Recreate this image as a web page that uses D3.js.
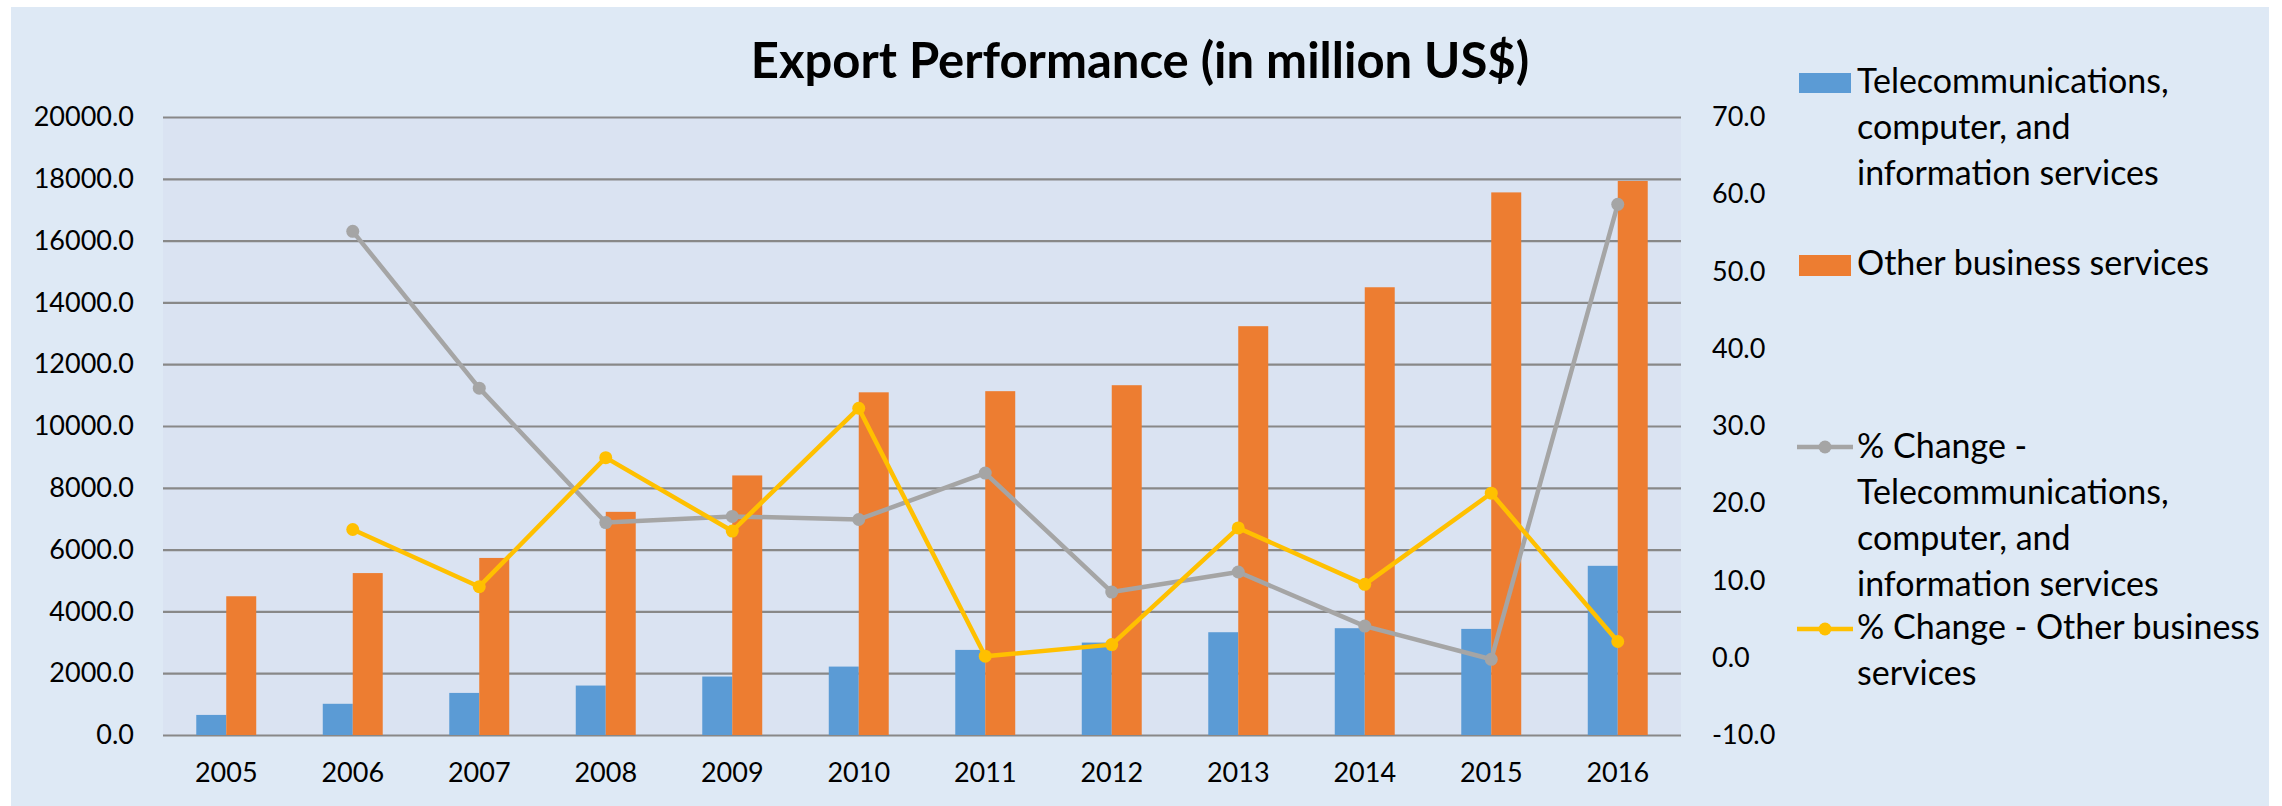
<!DOCTYPE html>
<html>
<head>
<meta charset="utf-8">
<script src="https://cdn.jsdelivr.net/npm/d3@7"></script>
<style>
  html, body { margin: 0; padding: 0; background: #ffffff; }
  svg { display: block; }
  text { font-family: Lato, "Open Sans", sans-serif; fill: #000; }
</style>
</head>
<body>
<svg id="chart" width="2282" height="806"></svg>
<script>
// ---- data ----
const years = ["2005","2006","2007","2008","2009","2010","2011","2012","2013","2014","2015","2016"];
const telecomValues = [650, 1010, 1362, 1600, 1892, 2214, 2754, 2991, 3326, 3456, 3434, 5475];
const otherBizValues = [4490, 5240, 5730, 7222, 8400, 11090, 11127, 11320, 13230, 14490, 17560, 17930];
const pctTelecom = [null, 55.2, 34.9, 17.5, 18.3, 17.9, 23.9, 8.5, 11.1, 4.1, -0.2, 58.7];
const pctOther = [null, 16.6, 9.2, 25.9, 16.4, 32.3, 0.2, 1.7, 16.8, 9.5, 21.3, 2.1];
const leftTicks = [0, 2000, 4000, 6000, 8000, 10000, 12000, 14000, 16000, 18000, 20000];
const rightTicks = [-10, 0, 10, 20, 30, 40, 50, 60, 70];
const titleText = "Export Performance (in million US$)";

// ---- layout ----
const plot = { left: 163, right: 1681, top: 117, bottom: 735 };
const colors = { blue: "#5B9BD5", orange: "#ED7D31", gray: "#A5A5A5", yellow: "#FFC000" };
const fmt = d => d.toFixed(1);

const svg = d3.select("#chart");

// backgrounds
svg.append("rect").attr("x", 11).attr("y", 7).attr("width", 2258).attr("height", 799).attr("fill", "#DEE9F5");
svg.append("rect").attr("x", plot.left).attr("y", plot.top)
  .attr("width", plot.right - plot.left).attr("height", plot.bottom - plot.top).attr("fill", "#DAE3F2");

// scales
const x = d3.scaleBand().domain(years).range([plot.left, plot.right]).paddingInner(0.526).paddingOuter(0.263);
const xSub = d3.scaleBand().domain(["t", "o"]).range([0, x.bandwidth()]);
const yL = d3.scaleLinear().domain([0, 20000]).range([plot.bottom, plot.top]);
const yR = d3.scaleLinear().domain([-10, 70]).range([plot.bottom, plot.top]);
const cx = d => x(d) + x.bandwidth() / 2;

// gridlines + left axis
const leftAxis = d3.axisLeft(yL).tickValues(leftTicks).tickFormat(fmt)
  .tickSize(-(plot.right - plot.left)).tickPadding(29);
const gL = svg.append("g").attr("transform", `translate(${plot.left},0)`).call(leftAxis);
gL.select(".domain").remove();
gL.selectAll(".tick line").attr("stroke", "#888888").attr("stroke-width", 2.2);
gL.selectAll(".tick text").attr("font-size", 27).attr("font-family", "Lato").attr("fill", "#000");

// right axis (labels only, left aligned)
const rightAxis = d3.axisRight(yR).tickValues(rightTicks).tickFormat(fmt).tickSize(0).tickPadding(31);
const gR = svg.append("g").attr("transform", `translate(${plot.right},0)`).call(rightAxis);
gR.select(".domain").remove();
gR.selectAll(".tick text").attr("font-size", 27).attr("font-family", "Lato").attr("fill", "#000");

// bottom axis labels
const bottomAxis = d3.axisBottom(x).tickSize(0).tickPadding(28);
const gB = svg.append("g").attr("transform", `translate(0,${plot.bottom})`).call(bottomAxis);
gB.select(".domain").remove();
gB.selectAll(".tick text").attr("font-size", 27).attr("font-family", "Lato").attr("fill", "#000");

// bars
const barData = years.map((y, i) => ({ year: y, t: telecomValues[i], o: otherBizValues[i] }));
const groups = svg.append("g").selectAll("g").data(barData).join("g")
  .attr("transform", d => `translate(${x(d.year)},0)`);
groups.append("rect").attr("x", xSub("t")).attr("width", xSub.bandwidth())
  .attr("y", d => yL(d.t)).attr("height", d => yL(0) - yL(d.t)).attr("fill", colors.blue);
groups.append("rect").attr("x", xSub("o")).attr("width", xSub.bandwidth())
  .attr("y", d => yL(d.o)).attr("height", d => yL(0) - yL(d.o)).attr("fill", colors.orange);

// lines
function drawLine(values, color) {
  const pts = years.map((y, i) => ({ year: y, v: values[i] })).filter(d => d.v !== null);
  const line = d3.line().x(d => cx(d.year)).y(d => yR(d.v));
  svg.append("path").datum(pts).attr("d", line).attr("fill", "none")
    .attr("stroke", color).attr("stroke-width", 4.5).attr("stroke-linejoin", "round");
  svg.append("g").selectAll("circle").data(pts).join("circle")
    .attr("cx", d => cx(d.year)).attr("cy", d => yR(d.v)).attr("r", 6.5).attr("fill", color);
}
drawLine(pctTelecom, colors.gray);
drawLine(pctOther, colors.yellow);

// title
svg.append("text").attr("x", 1140).attr("y", 78).attr("text-anchor", "middle")
  .attr("font-size", 49).attr("font-weight", "bold").text(titleText);

// legend
const legend = svg.append("g");
function legendText(xPos, yPos, lines) {
  const t = legend.append("text").attr("x", xPos).attr("y", yPos).attr("font-size", 34);
  lines.forEach((l, i) => t.append("tspan").attr("x", xPos).attr("dy", i === 0 ? 0 : 46).text(l));
}
legend.append("rect").attr("x", 1799).attr("y", 73).attr("width", 52).attr("height", 20).attr("fill", colors.blue);
legendText(1857, 93, ["Telecommunications,", "computer, and", "information services"]);
legend.append("rect").attr("x", 1799).attr("y", 255).attr("width", 52).attr("height", 21).attr("fill", colors.orange);
legendText(1857, 275, ["Other business services"]);

legend.append("line").attr("x1", 1797).attr("x2", 1853).attr("y1", 447).attr("y2", 447)
  .attr("stroke", colors.gray).attr("stroke-width", 4.5);
legend.append("circle").attr("cx", 1825).attr("cy", 447).attr("r", 6.5).attr("fill", colors.gray);
legendText(1857, 458, ["% Change -", "Telecommunications,", "computer, and", "information services"]);

legend.append("line").attr("x1", 1797).attr("x2", 1853).attr("y1", 629).attr("y2", 629)
  .attr("stroke", colors.yellow).attr("stroke-width", 4.5);
legend.append("circle").attr("cx", 1825).attr("cy", 629).attr("r", 6.5).attr("fill", colors.yellow);
legendText(1857, 639, ["% Change - Other business", "services"]);
</script>
</body>
</html>
